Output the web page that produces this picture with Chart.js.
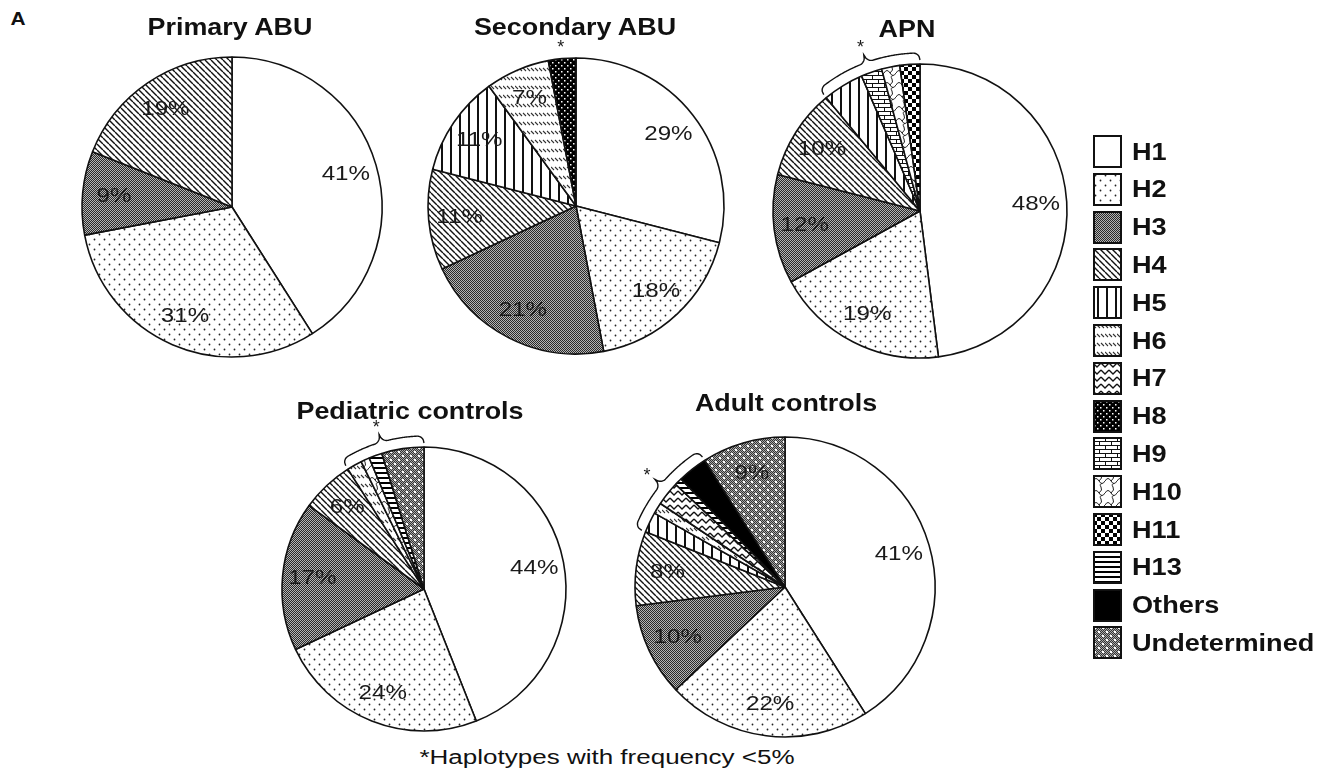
<!DOCTYPE html>
<html>
<head>
<meta charset="utf-8">
<script src="https://cdn.jsdelivr.net/npm/chart.js@4.4.1/dist/chart.umd.min.js"></script>
<style>
  body { margin: 0; background: #fff; width: 1327px; height: 776px; overflow: hidden; position: relative;
         font-family: "Liberation Sans", Arial, sans-serif; color: #111; }
  .pie { position: absolute; }
  .t { position: absolute; z-index: 2; font-weight: bold; font-size: 24px; line-height: 1; white-space: nowrap;
       transform: translate(-50%, -50%) scaleX(1.12); }
  .row { position: absolute; left: 1093px; height: 33px; }
  .row canvas { position: absolute; left: 0; top: 0; }
  .row span { position: absolute; left: 39px; top: 50%; font-weight: bold; font-size: 24px; line-height: 1;
              white-space: nowrap; transform: translateY(-50%) scaleX(1.13); transform-origin: left center; }
  .note { position: absolute; left: 607px; top: 757px; font-size: 20px; line-height: 1; white-space: nowrap;
          transform: translate(-50%, -50%) scaleX(1.3); }
</style>
</head>
<body>
<div class="t" style="left:18px;top:18px;font-size:19px;transform:translate(-50%,-50%) scaleX(1.1)">A</div>
<div class="note">*Haplotypes with frequency &lt;5%</div>
<script>
// ---- data (percent of isolates per haplotype) ----
const haplotypes   = ['H1', 'H2', 'H3', 'H4', 'H5', 'H6', 'H7', 'H8', 'H9', 'H10', 'H11', 'H13', 'Others', 'Undetermined'];
const primaryAbu   = [41, 31,  9, 19,   0,   0,   0, 0,   0, 0,   0,   0,   0,   0];
const secondaryAbu = [29, 18, 21, 11,  11,   7,   0, 3,   0, 0,   0,   0,   0,   0];
const apn          = [48, 19, 12, 10, 4.5,   0,   0, 0, 2.3, 2, 2.2,   0,   0,   0];
const pediatric    = [44, 24, 17,  6,   0, 1.7,   0, 0,   0, 1,   0, 1.5,   0, 4.8];
const adult        = [41, 22, 10,  8, 2.2, 1.2, 2.6, 0,   0, 0,   0, 0.8, 3.2,   9];

const panels = [
  { title: 'Primary ABU',        values: primaryAbu,   cx: 232, cy: 207, r: 150, tx: 230, ty: 27 },
  { title: 'Secondary ABU',      values: secondaryAbu, cx: 576, cy: 206, r: 148, tx: 575, ty: 27 },
  { title: 'APN',                values: apn,          cx: 920, cy: 211, r: 147, tx: 907, ty: 29 },
  { title: 'Pediatric controls', values: pediatric,    cx: 424, cy: 589, r: 142, tx: 410, ty: 411 },
  { title: 'Adult controls',     values: adult,        cx: 785, cy: 587, r: 150, tx: 786, ty: 403 }
];

// ---- fill patterns ----
function tile(w, h, draw) {
  const c = document.createElement('canvas');
  c.width = w; c.height = h;
  const g = c.getContext('2d');
  draw(g, w, h);
  return g.createPattern(c, 'repeat');
}
function checker(g, w, h, dark, light) {
  g.fillStyle = light; g.fillRect(0, 0, w, h);
  g.fillStyle = dark;
  for (let y = 0; y < h; y++) for (let x = 0; x < w; x++) if ((x + y) % 2 === 0) g.fillRect(x, y, 1, 1);
}

const fills = [
  '#ffffff',
  tile(10, 10, g => { g.fillStyle = '#fff'; g.fillRect(0, 0, 10, 10); g.fillStyle = '#222';
    g.beginPath(); g.arc(2.5, 2.5, 0.9, 0, 7); g.arc(7.5, 7.5, 0.9, 0, 7); g.fill(); }),
  tile(2, 2, (g, w, h) => checker(g, w, h, '#2a2a2a', '#b4b4b4')),
  tile(6, 6, g => { g.fillStyle = '#fff'; g.fillRect(0, 0, 6, 6); g.strokeStyle = '#111'; g.lineWidth = 1.4;
    g.beginPath(); [-6, 0, 6].forEach(k => { g.moveTo(k, 0); g.lineTo(k + 6, 6); }); g.stroke(); }),
  tile(9, 8, g => { g.fillStyle = '#fff'; g.fillRect(0, 0, 9, 8); g.fillStyle = '#111'; g.fillRect(4, 0, 2, 8); }),
  tile(12, 9, g => { g.fillStyle = '#fff'; g.fillRect(0, 0, 12, 9); g.strokeStyle = '#333'; g.lineWidth = 1.1;
    g.beginPath(); [0, 4, 8].forEach(x => { g.moveTo(x, 1); g.lineTo(x + 3, 4); }); g.stroke(); }),
  tile(8, 7, g => { g.fillStyle = '#fff'; g.fillRect(0, 0, 8, 7); g.strokeStyle = '#111'; g.lineWidth = 1.3;
    g.beginPath(); g.moveTo(0, 1); g.lineTo(4, 5); g.lineTo(8, 1); g.stroke(); }),
  tile(6, 6, g => { g.fillStyle = '#000'; g.fillRect(0, 0, 6, 6); g.fillStyle = '#fff';
    g.fillRect(1, 1, 1.5, 1.5); g.fillRect(4, 4, 1.5, 1.5); }),
  tile(12, 8, g => { g.fillStyle = '#fff'; g.fillRect(0, 0, 12, 8); g.strokeStyle = '#111'; g.lineWidth = 1;
    g.beginPath(); g.moveTo(0, 0.5); g.lineTo(12, 0.5); g.moveTo(0, 4.5); g.lineTo(12, 4.5);
    g.moveTo(0.5, 0.5); g.lineTo(0.5, 4.5); g.moveTo(6.5, 4.5); g.lineTo(6.5, 8); g.stroke(); }),
  tile(12, 12, g => { g.fillStyle = '#fff'; g.fillRect(0, 0, 12, 12); g.strokeStyle = '#222'; g.lineWidth = 1;
    g.beginPath(); g.moveTo(0, 6); g.quadraticCurveTo(3, 1, 6, 6); g.quadraticCurveTo(9, 11, 12, 6);
    g.moveTo(6, 6); g.quadraticCurveTo(10, 3, 8, 0); g.moveTo(8, 12); g.quadraticCurveTo(6, 9, 9, 8.5); g.stroke(); }),
  tile(8, 8, g => { g.fillStyle = '#fff'; g.fillRect(0, 0, 8, 8); g.fillStyle = '#000';
    g.fillRect(0, 0, 4, 4); g.fillRect(4, 4, 4, 4); }),
  tile(1, 5, g => { g.fillStyle = '#fff'; g.fillRect(0, 0, 1, 5); g.fillStyle = '#000'; g.fillRect(0, 0, 1, 2); }),
  '#000000',
  tile(8, 8, (g, w, h) => { checker(g, w, h, '#333', '#a8a8a8'); g.fillStyle = '#fff';
    g.fillRect(1, 1, 2, 2); g.fillRect(5, 5, 2, 2); })
];

// ---- percentage labels, brace and asterisk for rare haplotypes ----
const pieExtras = {
  id: 'pieExtras',
  afterDatasetsDraw(chart) {
    const ctx = chart.ctx;
    const arcs = chart.getDatasetMeta(0).data;
    const vals = chart.data.datasets[0].data;
    ctx.save();
    ctx.fillStyle = '#1a1a1a';
    ctx.font = '21px "Liberation Sans", Arial, sans-serif';
    ctx.textAlign = 'center';
    ctx.textBaseline = 'middle';
    arcs.forEach((arc, i) => {
      if (vals[i] < 5) return;
      const a = (arc.startAngle + arc.endAngle) / 2;
      const rr = arc.outerRadius * 0.79;
      ctx.save();
      ctx.translate(arc.x + Math.cos(a) * rr, arc.y + Math.sin(a) * rr);
      ctx.scale(1.15, 1);
      ctx.fillText(Math.round(vals[i]) + '%', 0, 0);
      ctx.restore();
    });

    // group of haplotypes under 5%: a brace when there are several, plus an asterisk
    let first = -1, last = -1;
    vals.forEach((v, i) => { if (v < 5) { if (first < 0) first = i; last = i; } });
    if (first >= 0) {
      const cx = arcs[0].x, cy = arcs[0].y, R = arcs[0].outerRadius;
      const a0 = arcs[first].startAngle, a1 = arcs[last].endAngle;
      const mid = (a0 + a1) / 2;
      let starR = R + 14;
      if (first !== last) {
        const L = (a1 - a0) * (R + 10);
        const e = Math.min(0.2, 7 / L), m = Math.min(0.2, 7 / L);
        ctx.strokeStyle = '#111';
        ctx.lineWidth = 1.4;
        ctx.beginPath();
        for (let s = 0; s <= 120; s++) {
          const u = s / 120;
          let r = R + 11;
          if (u < e) r = R + 4 + 7 * Math.sqrt(1 - Math.pow(1 - u / e, 2));
          else if (u > 1 - e) r = R + 4 + 7 * Math.sqrt(1 - Math.pow(1 - (1 - u) / e, 2));
          const d = Math.abs(u - 0.5);
          if (d < m) r = R + 11 + 8 * (1 - Math.sqrt(1 - Math.pow(1 - d / m, 2)));
          const t = a0 + (a1 - a0) * u;
          const x = cx + Math.cos(t) * r, y = cy + Math.sin(t) * r;
          if (s === 0) ctx.moveTo(x, y); else ctx.lineTo(x, y);
        }
        ctx.stroke();
        starR = R + 29;
      }
      ctx.font = '18px "Liberation Sans", Arial, sans-serif';
      ctx.fillText('*', cx + Math.cos(mid) * starR, cy + Math.sin(mid) * starR + 3);
    }
    ctx.restore();
  }
};

// ---- one pie per group ----
panels.forEach(p => {
  const idx = haplotypes.map((_, i) => i).filter(i => p.values[i] > 0);
  const size = 2 * (p.r + 45);
  const cv = document.createElement('canvas');
  cv.width = size; cv.height = size;
  cv.className = 'pie';
  cv.style.left = (p.cx - size / 2) + 'px';
  cv.style.top = (p.cy - size / 2) + 'px';
  document.body.appendChild(cv);

  const t = document.createElement('div');
  t.className = 't';
  t.textContent = p.title;
  t.style.left = p.tx + 'px';
  t.style.top = p.ty + 'px';
  document.body.appendChild(t);

  new Chart(cv, {
    type: 'pie',
    data: {
      labels: idx.map(i => haplotypes[i]),
      datasets: [{
        data: idx.map(i => p.values[i]),
        backgroundColor: idx.map(i => fills[i]),
        borderColor: '#111',
        borderWidth: 1.6,
        radius: p.r
      }]
    },
    options: {
      responsive: false, animation: false, events: [],
      layout: { padding: 0 },
      plugins: { legend: { display: false }, tooltip: { enabled: false } }
    },
    plugins: [pieExtras]
  });
});

// ---- legend ----
haplotypes.forEach((name, i) => {
  const row = document.createElement('div');
  row.className = 'row';
  row.style.top = (135 + i * 37.8) + 'px';
  const sw = document.createElement('canvas');
  sw.width = 29; sw.height = 33;
  const g = sw.getContext('2d');
  g.fillStyle = fills[i];
  g.fillRect(0, 0, 29, 33);
  g.strokeStyle = '#111';
  g.lineWidth = 2;
  g.strokeRect(1, 1, 27, 31);
  const s = document.createElement('span');
  s.textContent = name;
  row.appendChild(sw);
  row.appendChild(s);
  document.body.appendChild(row);
});
</script>
</body>
</html>
